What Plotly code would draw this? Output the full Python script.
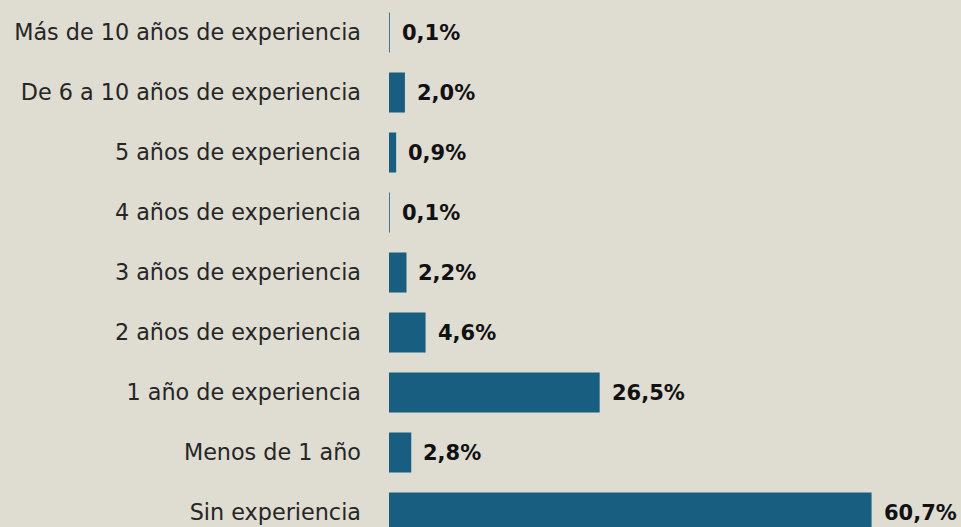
import plotly.graph_objects as go

categories = [
    "Sin experiencia",
    "Menos de 1 año",
    "1 año de experiencia",
    "2 años de experiencia",
    "3 años de experiencia",
    "4 años de experiencia",
    "5 años de experiencia",
    "De 6 a 10 años de experiencia",
    "Más de 10 años de experiencia",
]
values = [60.7, 2.8, 26.5, 4.6, 2.2, 0.1, 0.9, 2.0, 0.1]
value_labels = ["60,7%", "2,8%", "26,5%", "4,6%", "2,2%", "0,1%", "0,9%", "2,0%", "0,1%"]

BG = "#dfdcd2"
BAR = "#175e80"

fig = go.Figure()
fig.add_trace(go.Bar(
    x=values,
    y=categories,
    orientation="h",
    width=0.667,
    marker=dict(color=BAR, line=dict(width=0)),
    hoverinfo="skip",
))

for cat, v, lab in zip(categories, values, value_labels):
    fig.add_annotation(
        x=v, y=cat, text="<b>" + lab + "</b>",
        xanchor="left", yanchor="middle", xshift=10,
        showarrow=False,
        font=dict(family="DejaVu Sans", size=21, color="#111111"),
    )

fig.update_layout(
    width=961, height=527,
    margin=dict(l=389, r=0, t=0, b=0),
    paper_bgcolor=BG, plot_bgcolor=BG,
    showlegend=False,
    xaxis=dict(range=[0, 71.95], visible=False, fixedrange=True),
    yaxis=dict(
        type="category",
        categoryorder="array", categoryarray=categories,
        range=[-0.2417, 8.5417],
        showgrid=False, zeroline=False, showline=False,
        ticks="", ticklabelstandoff=27,
        tickfont=dict(family="DejaVu Sans", size=22.3, color="#262626"),
        automargin=False,
    ),
)

fig.write_html(
    "out.html",
    config={"displayModeBar": False, "staticPlot": True},
    post_script="document.body.style.margin='0';document.body.style.background='%s';" % BG,
)
